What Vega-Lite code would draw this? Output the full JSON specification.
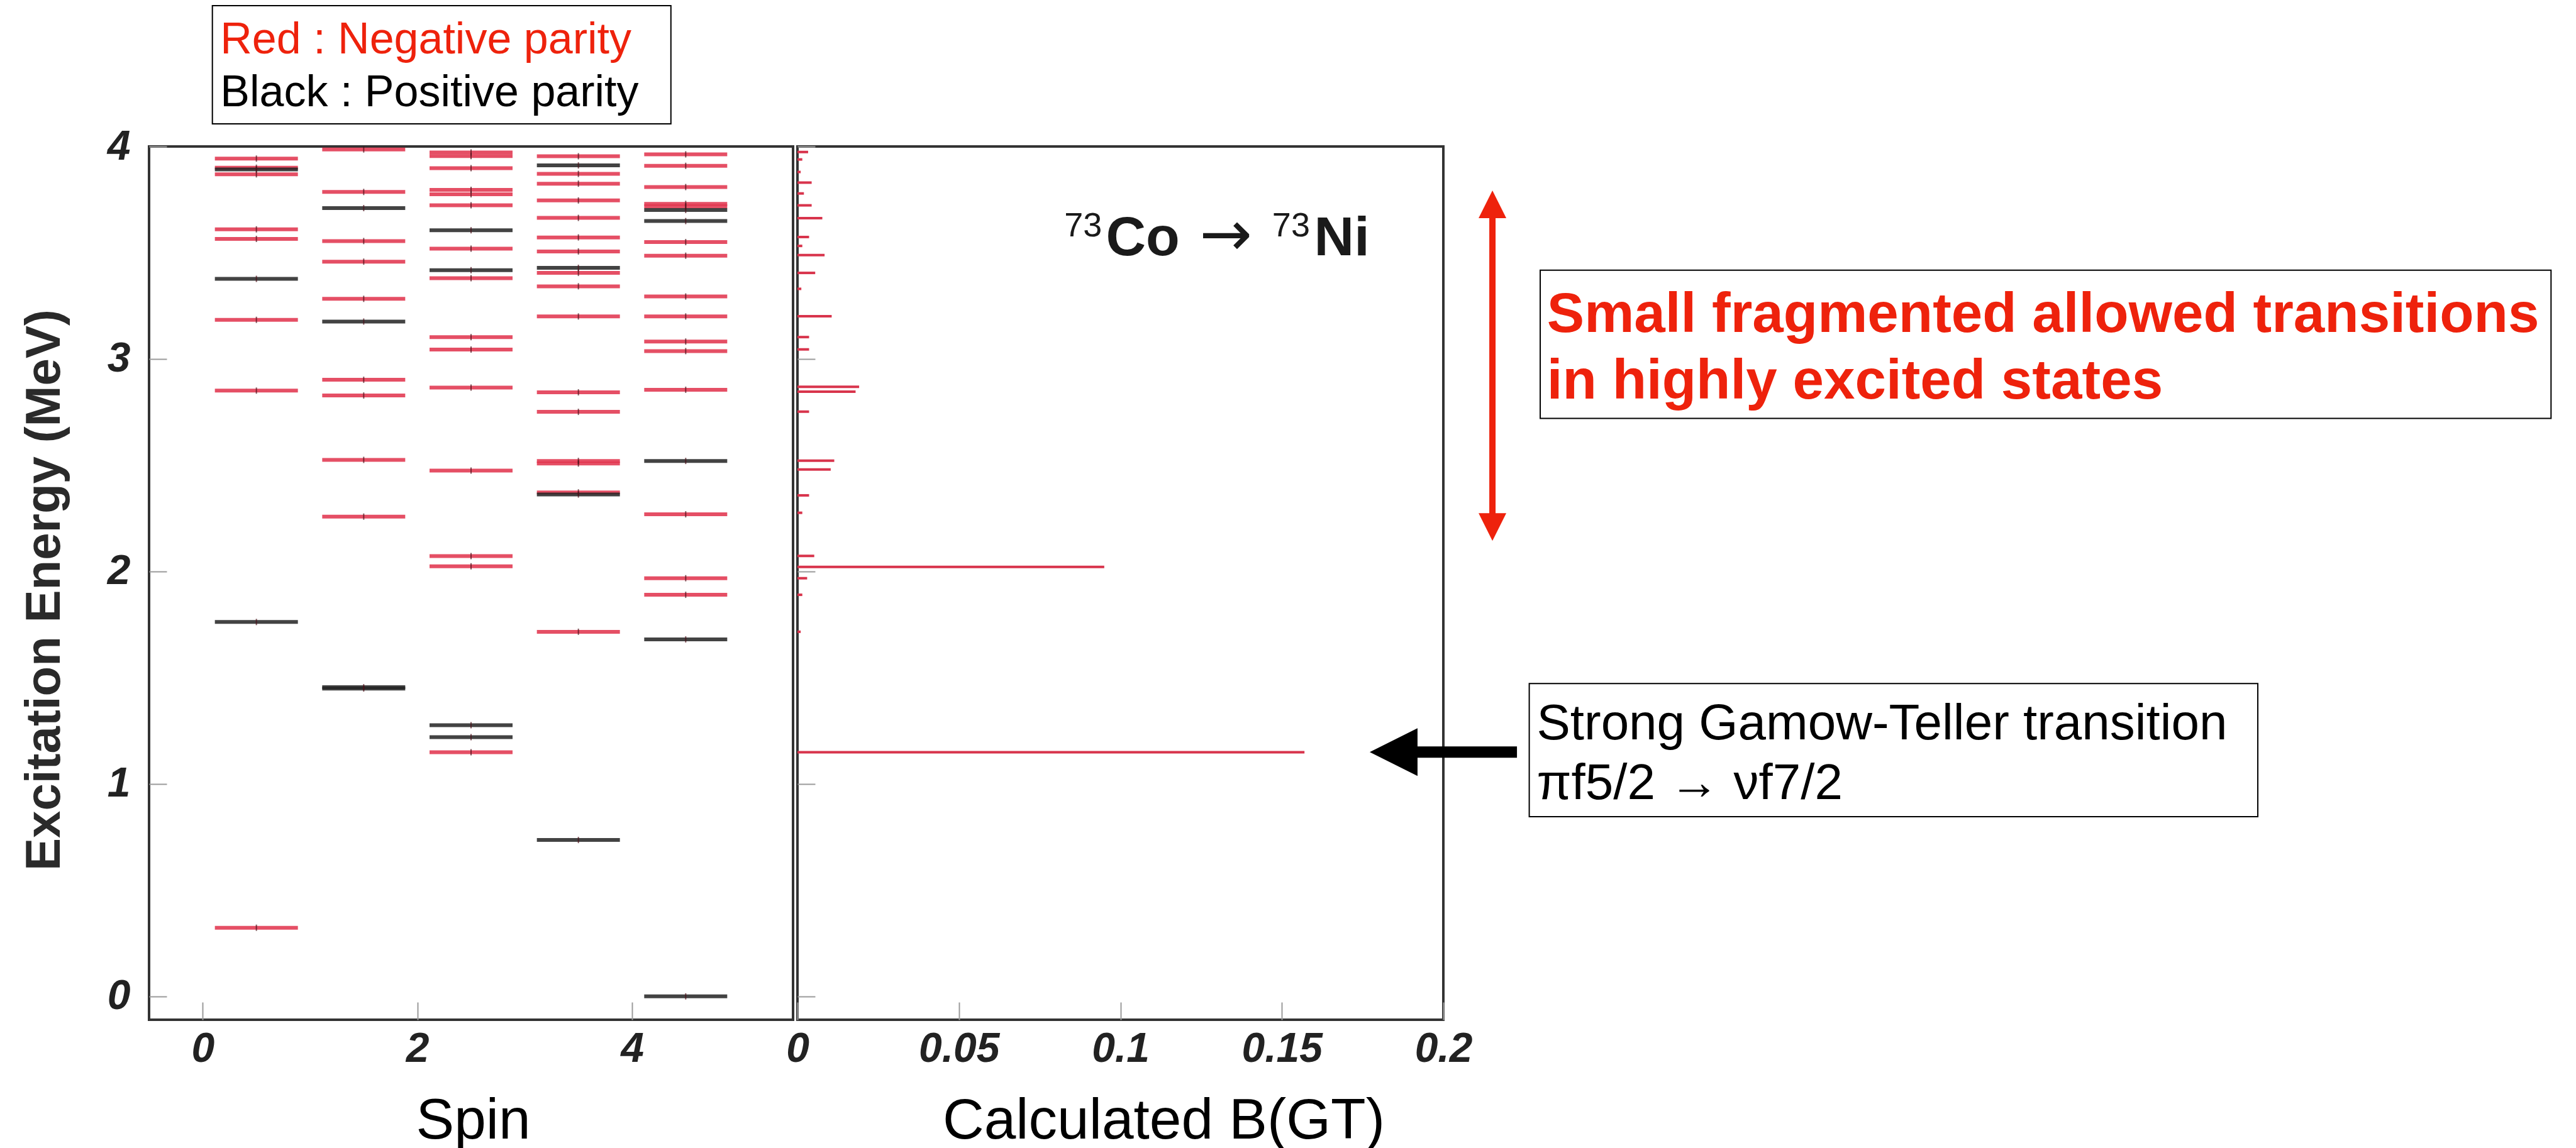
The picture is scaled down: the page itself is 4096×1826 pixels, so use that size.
{
  "$schema": "https://vega.github.io/schema/vega-lite/v6.json",
  "background": "white",
  "padding": {"left": 30, "top": 6, "right": 0, "bottom": 0},
  "config": {
    "font": "Liberation Sans",
    "view": {"stroke": "#333333", "strokeWidth": 4},
    "axis": {"grid": false, "domain": false}
  },
  "datasets": {
    "levels": [
      {"spin": 0.5, "energy": 3.943, "parity": "negative"},
      {"spin": 0.5, "energy": 3.900, "parity": "negative"},
      {"spin": 0.5, "energy": 3.892, "parity": "positive"},
      {"spin": 0.5, "energy": 3.869, "parity": "negative"},
      {"spin": 0.5, "energy": 3.610, "parity": "negative"},
      {"spin": 0.5, "energy": 3.565, "parity": "negative"},
      {"spin": 0.5, "energy": 3.377, "parity": "positive"},
      {"spin": 0.5, "energy": 3.184, "parity": "negative"},
      {"spin": 0.5, "energy": 2.851, "parity": "negative"},
      {"spin": 0.5, "energy": 1.762, "parity": "positive"},
      {"spin": 0.5, "energy": 0.323, "parity": "negative"},
      {"spin": 1.5, "energy": 3.986, "parity": "negative"},
      {"spin": 1.5, "energy": 3.786, "parity": "negative"},
      {"spin": 1.5, "energy": 3.710, "parity": "positive"},
      {"spin": 1.5, "energy": 3.555, "parity": "negative"},
      {"spin": 1.5, "energy": 3.458, "parity": "negative"},
      {"spin": 1.5, "energy": 3.283, "parity": "negative"},
      {"spin": 1.5, "energy": 3.176, "parity": "positive"},
      {"spin": 1.5, "energy": 2.902, "parity": "negative"},
      {"spin": 1.5, "energy": 2.828, "parity": "negative"},
      {"spin": 1.5, "energy": 2.525, "parity": "negative"},
      {"spin": 1.5, "energy": 2.258, "parity": "negative"},
      {"spin": 1.5, "energy": 1.455, "parity": "positive"},
      {"spin": 1.5, "energy": 1.449, "parity": "positive"},
      {"spin": 2.5, "energy": 3.972, "parity": "negative"},
      {"spin": 2.5, "energy": 3.955, "parity": "negative"},
      {"spin": 2.5, "energy": 3.898, "parity": "negative"},
      {"spin": 2.5, "energy": 3.796, "parity": "negative"},
      {"spin": 2.5, "energy": 3.775, "parity": "negative"},
      {"spin": 2.5, "energy": 3.723, "parity": "negative"},
      {"spin": 2.5, "energy": 3.606, "parity": "positive"},
      {"spin": 2.5, "energy": 3.519, "parity": "negative"},
      {"spin": 2.5, "energy": 3.418, "parity": "positive"},
      {"spin": 2.5, "energy": 3.380, "parity": "negative"},
      {"spin": 2.5, "energy": 3.103, "parity": "negative"},
      {"spin": 2.5, "energy": 3.044, "parity": "negative"},
      {"spin": 2.5, "energy": 2.865, "parity": "negative"},
      {"spin": 2.5, "energy": 2.475, "parity": "negative"},
      {"spin": 2.5, "energy": 2.072, "parity": "negative"},
      {"spin": 2.5, "energy": 2.024, "parity": "negative"},
      {"spin": 2.5, "energy": 1.276, "parity": "positive"},
      {"spin": 2.5, "energy": 1.220, "parity": "positive"},
      {"spin": 2.5, "energy": 1.149, "parity": "negative"},
      {"spin": 3.5, "energy": 3.954, "parity": "negative"},
      {"spin": 3.5, "energy": 3.911, "parity": "positive"},
      {"spin": 3.5, "energy": 3.871, "parity": "negative"},
      {"spin": 3.5, "energy": 3.825, "parity": "negative"},
      {"spin": 3.5, "energy": 3.746, "parity": "negative"},
      {"spin": 3.5, "energy": 3.664, "parity": "negative"},
      {"spin": 3.5, "energy": 3.572, "parity": "negative"},
      {"spin": 3.5, "energy": 3.506, "parity": "negative"},
      {"spin": 3.5, "energy": 3.429, "parity": "positive"},
      {"spin": 3.5, "energy": 3.405, "parity": "negative"},
      {"spin": 3.5, "energy": 3.342, "parity": "negative"},
      {"spin": 3.5, "energy": 3.200, "parity": "negative"},
      {"spin": 3.5, "energy": 2.843, "parity": "negative"},
      {"spin": 3.5, "energy": 2.751, "parity": "negative"},
      {"spin": 3.5, "energy": 2.520, "parity": "negative"},
      {"spin": 3.5, "energy": 2.508, "parity": "negative"},
      {"spin": 3.5, "energy": 2.372, "parity": "negative"},
      {"spin": 3.5, "energy": 2.362, "parity": "positive"},
      {"spin": 3.5, "energy": 1.716, "parity": "negative"},
      {"spin": 3.5, "energy": 0.736, "parity": "positive"},
      {"spin": 4.5, "energy": 3.963, "parity": "negative"},
      {"spin": 4.5, "energy": 3.909, "parity": "negative"},
      {"spin": 4.5, "energy": 3.809, "parity": "negative"},
      {"spin": 4.5, "energy": 3.730, "parity": "negative"},
      {"spin": 4.5, "energy": 3.718, "parity": "negative"},
      {"spin": 4.5, "energy": 3.701, "parity": "positive"},
      {"spin": 4.5, "energy": 3.649, "parity": "positive"},
      {"spin": 4.5, "energy": 3.550, "parity": "negative"},
      {"spin": 4.5, "energy": 3.486, "parity": "negative"},
      {"spin": 4.5, "energy": 3.294, "parity": "negative"},
      {"spin": 4.5, "energy": 3.200, "parity": "negative"},
      {"spin": 4.5, "energy": 3.082, "parity": "negative"},
      {"spin": 4.5, "energy": 3.037, "parity": "negative"},
      {"spin": 4.5, "energy": 2.855, "parity": "negative"},
      {"spin": 4.5, "energy": 2.520, "parity": "positive"},
      {"spin": 4.5, "energy": 2.269, "parity": "negative"},
      {"spin": 4.5, "energy": 1.968, "parity": "negative"},
      {"spin": 4.5, "energy": 1.890, "parity": "negative"},
      {"spin": 4.5, "energy": 1.680, "parity": "positive"},
      {"spin": 4.5, "energy": 0.000, "parity": "positive"}
    ],
    "bgt": [
      {"energy": 3.974, "bgt": 0.0033},
      {"energy": 3.939, "bgt": 0.0015},
      {"energy": 3.880, "bgt": 0.0010},
      {"energy": 3.830, "bgt": 0.0044},
      {"energy": 3.779, "bgt": 0.0020},
      {"energy": 3.723, "bgt": 0.0044},
      {"energy": 3.663, "bgt": 0.0077},
      {"energy": 3.574, "bgt": 0.0036},
      {"energy": 3.532, "bgt": 0.0015},
      {"energy": 3.489, "bgt": 0.0084},
      {"energy": 3.405, "bgt": 0.0055},
      {"energy": 3.330, "bgt": 0.0012},
      {"energy": 3.201, "bgt": 0.0106},
      {"energy": 3.103, "bgt": 0.0036},
      {"energy": 3.045, "bgt": 0.0036},
      {"energy": 2.869, "bgt": 0.0191},
      {"energy": 2.846, "bgt": 0.0180},
      {"energy": 2.752, "bgt": 0.0036},
      {"energy": 2.521, "bgt": 0.0114},
      {"energy": 2.480, "bgt": 0.0103},
      {"energy": 2.358, "bgt": 0.0036},
      {"energy": 2.276, "bgt": 0.0015},
      {"energy": 2.073, "bgt": 0.0052},
      {"energy": 2.021, "bgt": 0.0950},
      {"energy": 1.968, "bgt": 0.0030},
      {"energy": 1.890, "bgt": 0.0015},
      {"energy": 1.716, "bgt": 0.0010},
      {"energy": 1.149, "bgt": 0.1570}
    ]
  },
  "spacing": 7,
  "bounds": "flush",
  "resolve": {"scale": {"x": "independent", "y": "independent"}},
  "hconcat": [
    {
      "width": 1024,
      "height": 1389,
      "layer": [
        {
          "data": {"name": "levels"},
          "mark": {"type": "tick", "orient": "horizontal", "size": 132, "thickness": 6, "opacity": 0.85},
          "encoding": {
            "x": {
              "field": "spin", "type": "quantitative",
              "scale": {"domain": [-0.5, 5.5], "nice": false, "zero": false},
              "axis": {
                "values": [0, 2, 4], "format": "d",
                "tickSize": -28, "tickColor": "#9a9a9a", "tickWidth": 2,
                "labelPadding": 42, "labelFont": "Liberation Sans", "labelFontWeight": "bold",
                "labelFontStyle": "italic", "labelFontSize": 66, "labelColor": "#222222",
                "labelFlush": false, "labelOverlap": false,
                "title": "Spin", "titleFont": "Liberation Sans", "titleFontSize": 91,
                "titleFontWeight": "normal", "titleColor": "#000000",
                "titleX": 515, "titleY": 188, "titleBaseline": "alphabetic",
                "titleAlign": "center", "titleAngle": 0
              }
            },
            "y": {
              "field": "energy", "type": "quantitative",
              "scale": {"domain": [-0.11, 4], "nice": false, "zero": false},
              "axis": {
                "values": [0, 1, 2, 3, 4], "format": "d",
                "tickSize": -28, "tickColor": "#9a9a9a", "tickWidth": 2,
                "labelPadding": 58, "labelFont": "Liberation Sans", "labelFontWeight": "bold",
                "labelFontStyle": "italic", "labelFontSize": 66, "labelColor": "#222222",
                "labelFlush": false, "labelOverlap": false,
                "title": "Excitation Energy (MeV)", "titleFont": "Liberation Sans",
                "titleFontSize": 78, "titleFontWeight": "bold", "titleColor": "#2a2a2a",
                "titleX": -143, "titleY": 705, "titleBaseline": "alphabetic",
                "titleAlign": "center", "titleAngle": 270
              }
            },
            "color": {
              "field": "parity", "type": "nominal",
              "scale": {"domain": ["negative", "positive"], "range": ["#e0304a", "#222222"]},
              "legend": null
            },
            "order": {"field": "parity", "sort": "ascending"}
          }
        },
        {
          "data": {"name": "levels"},
          "mark": {"type": "tick", "orient": "vertical", "size": 10, "thickness": 2, "color": "#4a0f18", "opacity": 0.7},
          "encoding": {
            "x": {"field": "spin", "type": "quantitative"},
            "y": {"field": "energy", "type": "quantitative"}
          }
        },
        {
          "data": {"values": [{}]},
          "mark": {"type": "rect", "fill": "#ffffff", "stroke": "#000000", "strokeWidth": 2},
          "encoding": {
            "x": {"datum": 0.09}, "x2": {"datum": 4.362},
            "y": {"datum": 4.6625}, "y2": {"datum": 4.1065}
          }
        },
        {
          "data": {"values": [{}]},
          "mark": {"type": "text", "align": "left", "baseline": "alphabetic", "font": "Liberation Sans", "fontSize": 70, "color": "#EE220C"},
          "encoding": {"x": {"datum": 0.164}, "y": {"datum": 4.4367}, "text": {"value": "Red : Negative parity"}}
        },
        {
          "data": {"values": [{}]},
          "mark": {"type": "text", "align": "left", "baseline": "alphabetic", "font": "Liberation Sans", "fontSize": 70, "color": "#000000"},
          "encoding": {"x": {"datum": 0.164}, "y": {"datum": 4.188}, "text": {"value": "Black : Positive parity"}}
        }
      ]
    },
    {
      "width": 1027,
      "height": 1389,
      "layer": [
        {
          "data": {"name": "bgt"},
          "mark": {"type": "rule", "strokeWidth": 4, "color": "#d8344c"},
          "encoding": {
            "x": {
              "field": "bgt", "type": "quantitative",
              "scale": {"domain": [0, 0.2], "nice": false, "zero": false},
              "axis": {
                "values": [0, 0.05, 0.1, 0.15, 0.2], "format": "~g",
                "tickSize": -28, "tickColor": "#9a9a9a", "tickWidth": 2,
                "labelPadding": 42, "labelFont": "Liberation Sans", "labelFontWeight": "bold",
                "labelFontStyle": "italic", "labelFontSize": 66, "labelColor": "#222222",
                "labelFlush": false, "labelOverlap": false,
                "title": "Calculated B(GT)", "titleFont": "Liberation Sans", "titleFontSize": 91,
                "titleFontWeight": "normal", "titleColor": "#000000",
                "titleX": 582, "titleY": 188, "titleBaseline": "alphabetic",
                "titleAlign": "center", "titleAngle": 0
              }
            },
            "x2": {"datum": 0},
            "y": {
              "field": "energy", "type": "quantitative",
              "scale": {"domain": [-0.11, 4], "nice": false, "zero": false},
              "axis": {
                "values": [0, 1, 2, 3, 4], "labels": false, "title": null,
                "minExtent": 0, "maxExtent": 0, "offset": 0,
                "tickSize": -28, "tickColor": "#9a9a9a", "tickWidth": 2
              }
            }
          }
        },
        {
          "data": {"values": [{}]},
          "mark": {"type": "text", "align": "left", "baseline": "alphabetic", "font": "Liberation Sans", "fontSize": 54, "color": "#1a1a1a"},
          "encoding": {"x": {"datum": 0.0826}, "y": {"datum": 3.577}, "text": {"value": "73"}}
        },
        {
          "data": {"values": [{}]},
          "mark": {"type": "text", "align": "left", "baseline": "alphabetic", "font": "Liberation Sans", "fontSize": 88, "fontWeight": "bold", "color": "#1a1a1a"},
          "encoding": {"x": {"datum": 0.0955}, "y": {"datum": 3.487}, "text": {"value": "Co"}}
        },
        {
          "data": {"values": [{}]},
          "mark": {"type": "text", "align": "left", "baseline": "alphabetic", "font": "DejaVu Sans", "fontSize": 100, "color": "#1a1a1a"},
          "encoding": {"x": {"datum": 0.1245}, "y": {"datum": 3.487}, "text": {"value": "→"}}
        },
        {
          "data": {"values": [{}]},
          "mark": {"type": "text", "align": "left", "baseline": "alphabetic", "font": "Liberation Sans", "fontSize": 54, "color": "#1a1a1a"},
          "encoding": {"x": {"datum": 0.147}, "y": {"datum": 3.577}, "text": {"value": "73"}}
        },
        {
          "data": {"values": [{}]},
          "mark": {"type": "text", "align": "left", "baseline": "alphabetic", "font": "Liberation Sans", "fontSize": 88, "fontWeight": "bold", "color": "#1a1a1a"},
          "encoding": {"x": {"datum": 0.160}, "y": {"datum": 3.487}, "text": {"value": "Ni"}}
        },
        {
          "data": {"values": [{}]},
          "mark": {"type": "rule", "strokeWidth": 10, "color": "#EE220C"},
          "encoding": {"x": {"datum": 0.2152}, "y": {"datum": 3.728}, "y2": {"datum": 2.209}}
        },
        {
          "data": {"values": [{}]},
          "mark": {"type": "point", "shape": "M0,-1L1,1L-1,1Z", "filled": true, "size": 1936, "color": "#EE220C", "opacity": 1, "strokeWidth": 0},
          "encoding": {"x": {"datum": 0.2152}, "y": {"datum": 3.728}}
        },
        {
          "data": {"values": [{}]},
          "mark": {"type": "point", "shape": "M0,1L1,-1L-1,-1Z", "filled": true, "size": 1936, "color": "#EE220C", "opacity": 1, "strokeWidth": 0},
          "encoding": {"x": {"datum": 0.2152}, "y": {"datum": 2.209}}
        },
        {
          "data": {"values": [{}]},
          "mark": {"type": "rect", "fill": "#ffffff", "stroke": "#000000", "strokeWidth": 2},
          "encoding": {
            "x": {"datum": 0.2300}, "x2": {"datum": 0.5430},
            "y": {"datum": 3.418}, "y2": {"datum": 2.720}
          }
        },
        {
          "data": {"values": [{}]},
          "mark": {"type": "text", "align": "left", "baseline": "alphabetic", "font": "Liberation Sans", "fontSize": 89, "fontWeight": "bold", "color": "#EE220C"},
          "encoding": {"x": {"datum": 0.2321}, "y": {"datum": 3.128}, "text": {"value": "Small fragmented allowed transitions"}}
        },
        {
          "data": {"values": [{}]},
          "mark": {"type": "text", "align": "left", "baseline": "alphabetic", "font": "Liberation Sans", "fontSize": 89, "fontWeight": "bold", "color": "#EE220C"},
          "encoding": {"x": {"datum": 0.2321}, "y": {"datum": 2.812}, "text": {"value": "in highly excited states"}}
        },
        {
          "data": {"values": [{}]},
          "mark": {"type": "rect", "fill": "#ffffff", "stroke": "#000000", "strokeWidth": 2},
          "encoding": {
            "x": {"datum": 0.2266}, "x2": {"datum": 0.4522},
            "y": {"datum": 1.472}, "y2": {"datum": 0.846}
          }
        },
        {
          "data": {"values": [{}]},
          "mark": {"type": "text", "align": "left", "baseline": "alphabetic", "font": "Liberation Sans", "fontSize": 80, "color": "#000000"},
          "encoding": {"x": {"datum": 0.2289}, "y": {"datum": 1.2097}, "text": {"value": "Strong Gamow-Teller transition"}}
        },
        {
          "data": {"values": [{}]},
          "mark": {"type": "text", "align": "left", "baseline": "alphabetic", "font": "Liberation Sans", "fontSize": 80, "color": "#000000"},
          "encoding": {"x": {"datum": 0.2289}, "y": {"datum": 0.9275}, "text": {"value": "πf5/2 → νf7/2"}}
        },
        {
          "data": {"values": [{}]},
          "mark": {"type": "rule", "strokeWidth": 18, "color": "#000000"},
          "encoding": {"x": {"datum": 0.1846}, "x2": {"datum": 0.2228}, "y": {"datum": 1.150}}
        },
        {
          "data": {"values": [{}]},
          "mark": {"type": "point", "shape": "M-1,0L1,-1L1,1Z", "filled": true, "size": 5776, "color": "#000000", "opacity": 1, "strokeWidth": 0},
          "encoding": {"x": {"datum": 0.1846}, "y": {"datum": 1.150}}
        }
      ]
    }
  ]
}
